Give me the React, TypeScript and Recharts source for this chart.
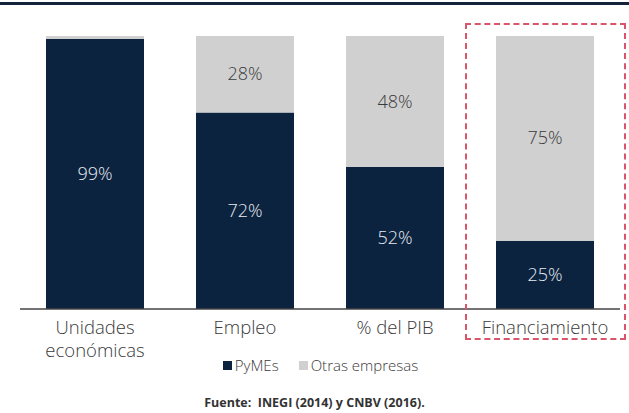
import { BarChart, Bar, XAxis, YAxis, LabelList } from "recharts";

const categorias = ["Unidades económicas", "Empleo", "% del PIB", "Financiamiento"];
const pymes = [99, 72, 52, 25];
const otras = [1, 28, 48, 75];

const datos = categorias.map((cat, i) => ({ cat, pymes: pymes[i], otras: otras[i] }));

const AZUL = "#0c2340";
const GRIS = "#d0d0d0";
const FONT = "'Open Sans', 'Noto Sans', sans-serif";

function Tick(props: any) {
  const { x, y, payload } = props;
  const txt: string = payload.value;
  const lineas = txt.length > 15 ? txt.split(" ") : [txt];
  return (
    <text x={x} y={y + 17} textAnchor="middle" fill="#3a3a3a" fontSize={18.5} fontFamily={FONT} fontWeight={300}>
      {lineas.map((l, i) => (
        <tspan key={i} x={x} dy={i === 0 ? 0 : 23}>
          {l}
        </tspan>
      ))}
    </text>
  );
}

function Etiqueta(color: string) {
  return (props: any) => {
    const { x, y, width, height, value } = props;
    if (value < 5) return null;
    return (
      <text
        x={x + width / 2}
        y={y + height / 2 + 6}
        textAnchor="middle"
        fill={color}
        fontSize={18}
        fontFamily={FONT}
        fontWeight={300}
      >
        {value}%
      </text>
    );
  };
}

export default function App() {
  return (
    <div style={{ position: "relative", width: 629, height: 413, background: "#fff", fontFamily: FONT }}>
      <style>{`body{margin:0}`}</style>
      <div style={{ position: "absolute", left: 0, top: 2, width: 629, height: 3, background: "#13233a" }} />
      <BarChart
        width={629}
        height={413}
        data={datos}
        margin={{ top: 36, right: 9, left: 20, bottom: 74 }}
        barCategoryGap={26}
      >
        <XAxis
          dataKey="cat"
          tick={<Tick />}
          tickLine={false}
          axisLine={{ stroke: "#444", strokeWidth: 1.5 }}
          interval={0}
          height={30}
        />
        <YAxis hide domain={[0, 100]} />
        <Bar dataKey="pymes" stackId="a" fill={AZUL} isAnimationActive={false}>
          <LabelList dataKey="pymes" content={Etiqueta("#e6ebf2")} />
        </Bar>
        <Bar dataKey="otras" stackId="a" fill={GRIS} isAnimationActive={false}>
          <LabelList dataKey="otras" content={Etiqueta("#3a3a3a")} />
        </Bar>
      </BarChart>
      <div
        style={{
          position: "absolute",
          left: 465,
          top: 23,
          width: 157,
          height: 313,
          border: "2px dashed #d9566a",
        }}
      />
      <div
        style={{
          position: "absolute",
          top: 355,
          left: 6,
          width: 629,
          display: "flex",
          justifyContent: "center",
          gap: 20,
          fontSize: 15,
          color: "#3a3a3a",
          fontWeight: 300,
        }}
      >
        <span style={{ display: "flex", alignItems: "center" }}>
          <span style={{ width: 9, height: 9, background: AZUL, marginRight: 3 }} />
          PyMEs
        </span>
        <span style={{ display: "flex", alignItems: "center" }}>
          <span style={{ width: 9, height: 9, background: GRIS, marginRight: 3 }} />
          Otras empresas
        </span>
      </div>
      <div
        style={{
          position: "absolute",
          top: 394,
          left: 0,
          width: 629,
          textAlign: "center",
          fontSize: 12.5,
          fontWeight: 700,
          color: "#333",
        }}
      >
        Fuente:&nbsp; INEGI (2014) y CNBV (2016).
      </div>
    </div>
  );
}
